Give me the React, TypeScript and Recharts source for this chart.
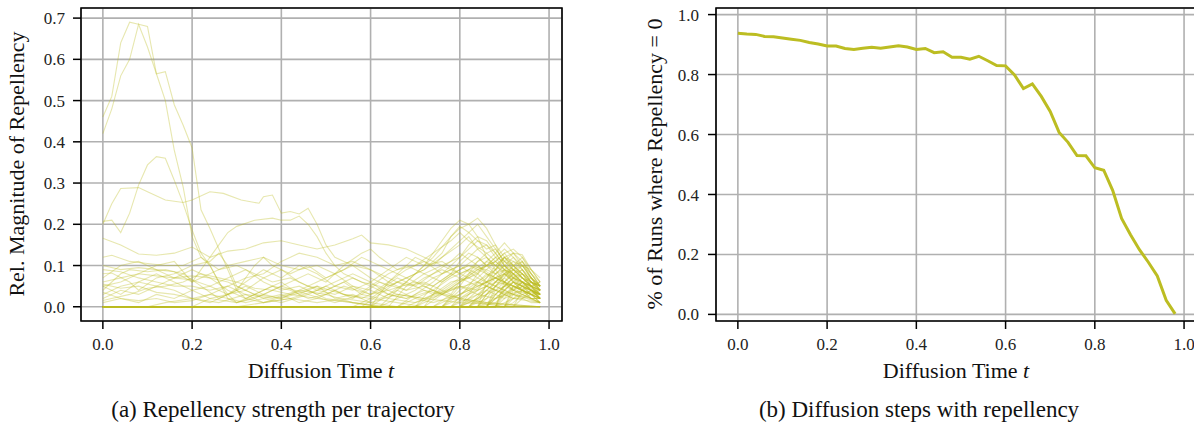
import { LineChart, Line, XAxis, YAxis, CartesianGrid, ReferenceArea } from "recharts";

const OLIVE = "#bcbd22";
const GRID = "#b0b0b0";
const FONT = '"Liberation Serif", "Times New Roman", serif';

type Pt = [number, number];

// shared x axis (diffusion time), matplotlib-style 5% padding around [0, 0.98]
const timeTicks = [0, 0.2, 0.4, 0.6, 0.8, 1.0];
const TIME_DOMAIN: [number, number] = [-0.049, 1.029];

const strengthTicks = [0, 0.1, 0.2, 0.3, 0.4, 0.5, 0.6, 0.7];
const STRENGTH_DOMAIN: [number, number] = [-0.0345, 0.7245];

const shareTicks = [0, 0.2, 0.4, 0.6, 0.8, 1.0];
const SHARE_DOMAIN: [number, number] = [-0.022, 1.022];

// (a) trajectories with strong early repellency
const earlyRuns: Pt[][] = [
  [[0, 0.42], [0.02, 0.48], [0.04, 0.56], [0.06, 0.6], [0.08, 0.685], [0.1, 0.63], [0.12, 0.565], [0.14, 0.5], [0.16, 0.38], [0.18, 0.29], [0.2, 0.17], [0.22, 0.12], [0.24, 0.1], [0.26, 0.06], [0.28, 0.02], [0.3, 0.01], [0.34, 0.03], [0.4, 0.02], [0.46, 0.04], [0.5, 0.02], [0.56, 0.01], [0.62, 0], [0.98, 0]],
  [[0, 0.46], [0.02, 0.51], [0.04, 0.64], [0.06, 0.69], [0.08, 0.685], [0.1, 0.68], [0.12, 0.565], [0.14, 0.57], [0.16, 0.49], [0.18, 0.44], [0.2, 0.385], [0.22, 0.235], [0.24, 0.19], [0.26, 0.14], [0.28, 0.09], [0.3, 0.04], [0.32, 0.02], [0.36, 0.01], [0.42, 0.03], [0.48, 0.02], [0.56, 0.01], [0.64, 0], [0.98, 0]],
  [[0, 0.207], [0.02, 0.21], [0.04, 0.18], [0.06, 0.227], [0.08, 0.295], [0.1, 0.344], [0.12, 0.364], [0.14, 0.36], [0.16, 0.307], [0.18, 0.25], [0.2, 0.186], [0.22, 0.13], [0.24, 0.1], [0.26, 0.06], [0.28, 0.03], [0.3, 0.01], [0.34, 0.02], [0.38, 0.04], [0.42, 0.03], [0.48, 0.05], [0.54, 0.03], [0.6, 0.02], [0.66, 0.01], [0.72, 0], [0.98, 0]],
  [[0, 0.2], [0.02, 0.25], [0.04, 0.287], [0.08, 0.289], [0.1, 0.279], [0.14, 0.259], [0.18, 0.253], [0.2, 0.259], [0.24, 0.279], [0.27, 0.275], [0.31, 0.259], [0.35, 0.251], [0.36, 0.267], [0.38, 0.271], [0.4, 0.227], [0.42, 0.231], [0.44, 0.225], [0.46, 0.239], [0.48, 0.2], [0.5, 0.15], [0.52, 0.12], [0.56, 0.1], [0.6, 0.09], [0.64, 0.07], [0.68, 0.05], [0.72, 0.06], [0.76, 0.04], [0.8, 0.02], [0.86, 0.01], [0.98, 0]],
  [[0, 0.166], [0.04, 0.15], [0.08, 0.128], [0.12, 0.125], [0.16, 0.13], [0.2, 0.145], [0.24, 0.12], [0.28, 0.135], [0.32, 0.14], [0.36, 0.155], [0.4, 0.16], [0.44, 0.15], [0.48, 0.14], [0.52, 0.15], [0.56, 0.165], [0.58, 0.174], [0.6, 0.155], [0.64, 0.15], [0.68, 0.14], [0.72, 0.12], [0.76, 0.1], [0.8, 0.08], [0.84, 0.06], [0.88, 0.04], [0.92, 0.03], [0.98, 0.01]],
  [[0, 0.05], [0.04, 0.06], [0.08, 0.08], [0.12, 0.1], [0.16, 0.11], [0.2, 0.06], [0.22, 0.09], [0.24, 0.12], [0.26, 0.15], [0.28, 0.18], [0.3, 0.195], [0.34, 0.21], [0.38, 0.215], [0.4, 0.21], [0.42, 0.21], [0.44, 0.22], [0.46, 0.2], [0.48, 0.17], [0.5, 0.13], [0.52, 0.1], [0.54, 0.08], [0.58, 0.06], [0.62, 0.05], [0.66, 0.03], [0.72, 0.02], [0.8, 0.01], [0.98, 0]],
];

// (a) trajectories wandering at low level through the whole run
const steadyRuns: Pt[][] = [
  [[0, 0.12], [0.02, 0.125], [0.06, 0.11], [0.1, 0.105], [0.14, 0.1], [0.18, 0.1], [0.22, 0.12], [0.26, 0.09], [0.3, 0.1], [0.34, 0.08], [0.38, 0.06], [0.42, 0.07], [0.46, 0.05], [0.5, 0.04], [0.54, 0.06], [0.58, 0.03], [0.62, 0.02], [0.66, 0.04], [0.7, 0.02], [0.74, 0.01], [0.8, 0.03], [0.86, 0.06], [0.9, 0.08], [0.94, 0.05], [0.98, 0.03]],
  [[0, 0.1], [0.04, 0.09], [0.08, 0.095], [0.12, 0.09], [0.16, 0.085], [0.2, 0.06], [0.24, 0.08], [0.28, 0.1], [0.32, 0.11], [0.36, 0.12], [0.4, 0.1], [0.44, 0.09], [0.48, 0.1], [0.52, 0.08], [0.56, 0.1], [0.6, 0.07], [0.64, 0.05], [0.68, 0.07], [0.72, 0.09], [0.76, 0.12], [0.8, 0.15], [0.82, 0.17], [0.84, 0.14], [0.88, 0.1], [0.92, 0.07], [0.96, 0.04], [0.98, 0.02]],
  [[0, 0.08], [0.02, 0.082], [0.06, 0.06], [0.08, 0.04], [0.12, 0.07], [0.16, 0.08], [0.2, 0.1], [0.24, 0.11], [0.26, 0.13], [0.28, 0.1], [0.3, 0.05], [0.34, 0.03], [0.38, 0.05], [0.42, 0.04], [0.46, 0.02], [0.5, 0.03], [0.56, 0.01], [0.62, 0], [0.98, 0]],
  [[0, 0.07], [0.04, 0.1], [0.08, 0.11], [0.12, 0.09], [0.16, 0.07], [0.2, 0.065], [0.24, 0.05], [0.28, 0.07], [0.32, 0.09], [0.36, 0.06], [0.4, 0.04], [0.44, 0.05], [0.48, 0.03], [0.52, 0.05], [0.56, 0.07], [0.6, 0.05], [0.64, 0.08], [0.68, 0.1], [0.72, 0.08], [0.76, 0.06], [0.8, 0.09], [0.84, 0.12], [0.88, 0.08], [0.92, 0.04], [0.96, 0.02], [0.98, 0.01]],
  [[0, 0.05], [0.04, 0.03], [0.08, 0.06], [0.12, 0.08], [0.16, 0.06], [0.2, 0.04], [0.24, 0.02], [0.28, 0.03], [0.32, 0.06], [0.36, 0.09], [0.4, 0.07], [0.44, 0.1], [0.48, 0.08], [0.52, 0.05], [0.56, 0.04], [0.6, 0.06], [0.64, 0.03], [0.68, 0.02], [0.72, 0.04], [0.76, 0.03], [0.8, 0.05], [0.84, 0.04], [0.88, 0.06], [0.92, 0.09], [0.94, 0.11], [0.96, 0.07], [0.98, 0.04]],
  [[0, 0.03], [0.04, 0.05], [0.08, 0.06], [0.12, 0.05], [0.16, 0.07], [0.2, 0.09], [0.24, 0.07], [0.28, 0.04], [0.32, 0.02], [0.36, 0.04], [0.4, 0.06], [0.44, 0.03], [0.48, 0.05], [0.52, 0.02], [0.56, 0.03], [0.6, 0.01], [0.66, 0], [0.98, 0]],
  [[0, 0.02], [0.04, 0.04], [0.08, 0.03], [0.12, 0.05], [0.16, 0.04], [0.2, 0.02], [0.24, 0.01], [0.28, 0.03], [0.32, 0.05], [0.36, 0.03], [0.4, 0.02], [0.44, 0.04], [0.48, 0.06], [0.52, 0.08], [0.56, 0.05], [0.6, 0.03], [0.64, 0.06], [0.68, 0.09], [0.72, 0.11], [0.76, 0.08], [0.8, 0.1], [0.84, 0.07], [0.88, 0.05], [0.92, 0.03], [0.96, 0.02], [0.98, 0.02]],
  [[0, 0.06], [0.04, 0.07], [0.08, 0.08], [0.12, 0.075], [0.16, 0.07], [0.2, 0.075], [0.24, 0.07], [0.28, 0.06], [0.32, 0.04], [0.36, 0.07], [0.4, 0.09], [0.44, 0.06], [0.48, 0.04], [0.52, 0.03], [0.56, 0.05], [0.6, 0.04], [0.64, 0.02], [0.7, 0.01], [0.76, 0.03], [0.8, 0.06], [0.84, 0.09], [0.88, 0.11], [0.9, 0.13], [0.92, 0.1], [0.94, 0.08], [0.96, 0.06], [0.98, 0.05]],
  [[0, 0.04], [0.04, 0.08], [0.06, 0.09], [0.1, 0.085], [0.14, 0.09], [0.18, 0.08], [0.22, 0.05], [0.26, 0.02], [0.3, 0.04], [0.34, 0.1], [0.36, 0.12], [0.38, 0.1], [0.42, 0.08], [0.46, 0.1], [0.5, 0.07], [0.54, 0.09], [0.58, 0.12], [0.62, 0.1], [0.66, 0.08], [0.7, 0.06], [0.74, 0.04], [0.78, 0.02], [0.84, 0.01], [0.9, 0], [0.98, 0]],
  [[0, 0.01], [0.04, 0.02], [0.08, 0.01], [0.12, 0.03], [0.16, 0.02], [0.2, 0.04], [0.24, 0.05], [0.28, 0.03], [0.32, 0.04], [0.36, 0.02], [0.4, 0.03], [0.44, 0.01], [0.48, 0.02], [0.52, 0.04], [0.56, 0.02], [0.6, 0.05], [0.64, 0.03], [0.68, 0.02], [0.74, 0.04], [0.8, 0.02], [0.86, 0.05], [0.9, 0.03], [0.94, 0.06], [0.98, 0.03]],
  [[0, 0.09], [0.04, 0.085], [0.08, 0.07], [0.12, 0.06], [0.16, 0.05], [0.2, 0.05], [0.24, 0.04], [0.28, 0.05], [0.32, 0.07], [0.36, 0.08], [0.4, 0.11], [0.44, 0.13], [0.48, 0.12], [0.52, 0.1], [0.56, 0.11], [0.6, 0.09], [0.64, 0.06], [0.68, 0.04], [0.72, 0.05], [0.76, 0.03], [0.8, 0.02], [0.86, 0.01], [0.98, 0]],
  [[0, 0.015], [0.06, 0.03], [0.1, 0.045], [0.14, 0.05], [0.18, 0.06], [0.22, 0.08], [0.26, 0.07], [0.3, 0.06], [0.34, 0.045], [0.38, 0.04], [0.42, 0.06], [0.46, 0.08], [0.5, 0.06], [0.54, 0.1], [0.58, 0.13], [0.6, 0.14], [0.62, 0.12], [0.66, 0.09], [0.7, 0.1], [0.74, 0.13], [0.78, 0.16], [0.8, 0.18], [0.82, 0.16], [0.86, 0.13], [0.9, 0.09], [0.94, 0.06], [0.98, 0.04]],
  [[0, 0.055], [0.04, 0.045], [0.08, 0.05], [0.12, 0.035], [0.16, 0.03], [0.2, 0.02], [0.24, 0.03], [0.28, 0.02], [0.32, 0.01], [0.36, 0.02], [0.4, 0.01], [0.46, 0.03], [0.5, 0.05], [0.54, 0.03], [0.58, 0.02], [0.62, 0.04], [0.66, 0.07], [0.7, 0.05], [0.74, 0.03], [0.8, 0.05], [0.84, 0.03], [0.88, 0.02], [0.94, 0.04], [0.98, 0.02]],
  [[0, 0.035], [0.04, 0.02], [0.08, 0.015], [0.12, 0.02], [0.16, 0.01], [0.2, 0.015], [0.24, 0.03], [0.28, 0.05], [0.32, 0.03], [0.36, 0.01], [0.42, 0.02], [0.48, 0.01], [0.54, 0.02], [0.6, 0.01], [0.66, 0.03], [0.72, 0.02], [0.78, 0.04], [0.84, 0.06], [0.88, 0.04], [0.92, 0.02], [0.98, 0.01]],
  [[0, 0], [0.1, 0], [0.14, 0.01], [0.2, 0.02], [0.26, 0.01], [0.32, 0.03], [0.38, 0.02], [0.44, 0.04], [0.5, 0.03], [0.54, 0.05], [0.6, 0.03], [0.64, 0.04], [0.7, 0.06], [0.74, 0.05], [0.78, 0.08], [0.82, 0.1], [0.86, 0.08], [0.9, 0.06], [0.94, 0.04], [0.98, 0.03]],
  [[0, 0], [0.2, 0], [0.24, 0.02], [0.3, 0.01], [0.36, 0.03], [0.4, 0.05], [0.46, 0.03], [0.52, 0.01], [0.58, 0.03], [0.62, 0.06], [0.68, 0.04], [0.72, 0.07], [0.76, 0.09], [0.8, 0.07], [0.84, 0.05], [0.88, 0.07], [0.92, 0.05], [0.96, 0.04], [0.98, 0.02]],
  [[0, 0], [0.3, 0], [0.36, 0.01], [0.42, 0.02], [0.48, 0.04], [0.52, 0.06], [0.56, 0.08], [0.6, 0.06], [0.64, 0.09], [0.68, 0.12], [0.72, 0.1], [0.76, 0.11], [0.8, 0.08], [0.84, 0.1], [0.88, 0.07], [0.92, 0.04], [0.96, 0.03], [0.98, 0.02]],
];

// (a) trajectories that stay at zero and only repel late in the diffusion
const lateRuns: Pt[][] = [
  [[0, 0], [0.6, 0], [0.64, 0.03], [0.68, 0.06], [0.72, 0.1], [0.76, 0.16], [0.78, 0.19], [0.8, 0.21], [0.82, 0.2], [0.84, 0.17], [0.86, 0.12], [0.88, 0.09], [0.9, 0.06], [0.92, 0.05], [0.94, 0.04], [0.96, 0.03], [0.98, 0.02]],
  [[0, 0], [0.62, 0], [0.66, 0.04], [0.7, 0.08], [0.74, 0.12], [0.78, 0.17], [0.8, 0.19], [0.82, 0.2], [0.84, 0.215], [0.86, 0.19], [0.88, 0.15], [0.9, 0.1], [0.92, 0.07], [0.94, 0.05], [0.96, 0.04], [0.98, 0.03]],
  [[0, 0], [0.56, 0], [0.6, 0.02], [0.64, 0.05], [0.68, 0.07], [0.72, 0.09], [0.76, 0.13], [0.78, 0.17], [0.8, 0.195], [0.82, 0.18], [0.84, 0.16], [0.86, 0.15], [0.88, 0.13], [0.9, 0.1], [0.92, 0.08], [0.94, 0.06], [0.96, 0.04], [0.98, 0.03]],
  [[0, 0], [0.66, 0], [0.7, 0.03], [0.74, 0.06], [0.78, 0.1], [0.82, 0.14], [0.84, 0.16], [0.86, 0.14], [0.88, 0.15], [0.9, 0.12], [0.92, 0.09], [0.94, 0.07], [0.96, 0.05], [0.98, 0.04]],
  [[0, 0], [0.7, 0], [0.74, 0.02], [0.78, 0.05], [0.82, 0.08], [0.86, 0.11], [0.88, 0.13], [0.9, 0.155], [0.92, 0.13], [0.94, 0.126], [0.96, 0.09], [0.98, 0.06]],
  [[0, 0], [0.72, 0], [0.76, 0.03], [0.8, 0.06], [0.84, 0.09], [0.86, 0.1], [0.88, 0.12], [0.9, 0.14], [0.92, 0.12], [0.94, 0.1], [0.96, 0.07], [0.98, 0.05]],
  [[0, 0], [0.68, 0], [0.72, 0.02], [0.76, 0.04], [0.8, 0.07], [0.84, 0.11], [0.86, 0.13], [0.88, 0.14], [0.9, 0.11], [0.92, 0.1], [0.94, 0.08], [0.96, 0.05], [0.98, 0.04]],
  [[0, 0], [0.74, 0], [0.78, 0.02], [0.82, 0.04], [0.86, 0.07], [0.88, 0.09], [0.9, 0.12], [0.92, 0.1], [0.94, 0.11], [0.96, 0.08], [0.98, 0.05]],
  [[0, 0], [0.76, 0], [0.8, 0.02], [0.84, 0.05], [0.86, 0.06], [0.88, 0.08], [0.9, 0.1], [0.92, 0.09], [0.94, 0.07], [0.96, 0.06], [0.98, 0.04]],
  [[0, 0], [0.78, 0], [0.82, 0.02], [0.86, 0.04], [0.88, 0.06], [0.9, 0.08], [0.92, 0.07], [0.94, 0.09], [0.96, 0.06], [0.98, 0.05]],
  [[0, 0], [0.8, 0], [0.84, 0.02], [0.88, 0.04], [0.9, 0.05], [0.92, 0.06], [0.94, 0.05], [0.96, 0.04], [0.98, 0.03]],
  [[0, 0], [0.82, 0], [0.86, 0.02], [0.88, 0.03], [0.9, 0.05], [0.92, 0.04], [0.94, 0.06], [0.96, 0.05], [0.98, 0.04]],
  [[0, 0], [0.84, 0], [0.88, 0.01], [0.9, 0.03], [0.92, 0.04], [0.94, 0.03], [0.96, 0.02], [0.98, 0.02]],
  [[0, 0], [0.64, 0], [0.68, 0.05], [0.72, 0.08], [0.76, 0.1], [0.8, 0.12], [0.82, 0.15], [0.84, 0.17], [0.86, 0.16], [0.88, 0.13], [0.9, 0.1], [0.92, 0.08], [0.94, 0.06], [0.96, 0.04], [0.98, 0.02]],
  [[0, 0], [0.58, 0], [0.62, 0.03], [0.66, 0.06], [0.7, 0.05], [0.74, 0.08], [0.78, 0.11], [0.8, 0.13], [0.84, 0.1], [0.86, 0.08], [0.88, 0.06], [0.92, 0.05], [0.96, 0.03], [0.98, 0.01]],
  [[0, 0], [0.7, 0], [0.74, 0.05], [0.78, 0.08], [0.8, 0.11], [0.82, 0.13], [0.84, 0.12], [0.86, 0.1], [0.88, 0.11], [0.9, 0.09], [0.92, 0.07], [0.94, 0.08], [0.96, 0.05], [0.98, 0.03]],
  [[0, 0], [0.86, 0], [0.88, 0.02], [0.9, 0.04], [0.92, 0.06], [0.94, 0.08], [0.96, 0.07], [0.98, 0.05]],
  [[0, 0], [0.76, 0], [0.8, 0.04], [0.84, 0.07], [0.86, 0.09], [0.88, 0.11], [0.9, 0.13], [0.92, 0.14], [0.94, 0.12], [0.96, 0.08], [0.98, 0.06]],
  [[0, 0], [0.8, 0], [0.84, 0.03], [0.88, 0.07], [0.9, 0.09], [0.92, 0.11], [0.94, 0.1], [0.96, 0.07], [0.98, 0.05]],
  [[0, 0], [0.74, 0], [0.78, 0.03], [0.8, 0.06], [0.84, 0.08], [0.86, 0.11], [0.88, 0.1], [0.9, 0.08], [0.92, 0.06], [0.94, 0.04], [0.96, 0.03], [0.98, 0.02]],
  [[0, 0], [0.66, 0], [0.7, 0.02], [0.74, 0.04], [0.78, 0.07], [0.82, 0.09], [0.84, 0.08], [0.86, 0.06], [0.88, 0.05], [0.9, 0.07], [0.92, 0.05], [0.94, 0.04], [0.96, 0.02], [0.98, 0.01]],
  [[0, 0], [0.84, 0], [0.86, 0.02], [0.88, 0.05], [0.9, 0.06], [0.92, 0.08], [0.94, 0.09], [0.96, 0.06], [0.98, 0.04]],
  [[0, 0], [0.88, 0], [0.9, 0.02], [0.92, 0.03], [0.94, 0.04], [0.96, 0.03], [0.98, 0.03]],
  [[0, 0], [0.6, 0], [0.64, 0.06], [0.68, 0.1], [0.7, 0.12], [0.74, 0.1], [0.78, 0.14], [0.8, 0.16], [0.82, 0.18], [0.84, 0.2], [0.86, 0.17], [0.88, 0.14], [0.9, 0.11], [0.92, 0.09], [0.94, 0.07], [0.96, 0.05], [0.98, 0.03]],
  [[0, 0], [0.78, 0], [0.82, 0.05], [0.84, 0.08], [0.86, 0.1], [0.88, 0.12], [0.9, 0.11], [0.92, 0.13], [0.94, 0.1], [0.96, 0.07], [0.98, 0.04]],
  [[0, 0], [0.82, 0], [0.86, 0.04], [0.88, 0.06], [0.9, 0.08], [0.92, 0.09], [0.94, 0.08], [0.96, 0.06], [0.98, 0.03]],
  [[0, 0], [0.72, 0], [0.76, 0.06], [0.8, 0.09], [0.82, 0.1], [0.86, 0.09], [0.88, 0.08], [0.9, 0.09], [0.92, 0.08], [0.94, 0.06], [0.96, 0.04], [0.98, 0.02]],
  [[0, 0], [0.86, 0], [0.88, 0.03], [0.9, 0.05], [0.92, 0.07], [0.94, 0.06], [0.96, 0.05], [0.98, 0.02]],
  [[0, 0], [0.62, 0], [0.66, 0.02], [0.7, 0.04], [0.74, 0.07], [0.78, 0.09], [0.8, 0.1], [0.84, 0.14], [0.86, 0.15], [0.88, 0.12], [0.9, 0.09], [0.92, 0.06], [0.94, 0.05], [0.96, 0.03], [0.98, 0.02]],
  [[0, 0], [0.9, 0], [0.92, 0.02], [0.94, 0.03], [0.96, 0.04], [0.98, 0.02]],
  [[0, 0], [0.8, 0], [0.84, 0.04], [0.86, 0.07], [0.88, 0.1], [0.9, 0.12], [0.92, 0.11], [0.94, 0.09], [0.96, 0.06], [0.98, 0.05]],
  [[0, 0], [0.82, 0], [0.86, 0.05], [0.88, 0.08], [0.9, 0.1], [0.92, 0.12], [0.94, 0.09], [0.96, 0.07], [0.98, 0.04]],
  [[0, 0], [0.76, 0], [0.8, 0.03], [0.84, 0.06], [0.88, 0.09], [0.9, 0.11], [0.92, 0.09], [0.94, 0.07], [0.96, 0.05], [0.98, 0.03]],
  [[0, 0], [0.86, 0], [0.88, 0.04], [0.9, 0.06], [0.92, 0.08], [0.94, 0.07], [0.96, 0.05], [0.98, 0.06]],
  [[0, 0], [0.7, 0], [0.74, 0.03], [0.78, 0.06], [0.82, 0.07], [0.86, 0.1], [0.88, 0.09], [0.9, 0.1], [0.92, 0.08], [0.94, 0.06], [0.96, 0.04], [0.98, 0.03]],
  [[0, 0], [0.9, 0], [0.92, 0.03], [0.94, 0.05], [0.96, 0.06], [0.98, 0.05]],
  [[0, 0], [0.84, 0], [0.86, 0.03], [0.88, 0.05], [0.9, 0.07], [0.92, 0.1], [0.94, 0.12], [0.96, 0.09], [0.98, 0.06]],
  [[0, 0], [0.86, 0], [0.88, 0.05], [0.9, 0.08], [0.92, 0.1], [0.94, 0.08], [0.96, 0.06], [0.98, 0.04]],
  [[0, 0], [0.88, 0], [0.9, 0.04], [0.92, 0.06], [0.94, 0.05], [0.96, 0.04], [0.98, 0.03]],
  [[0, 0], [0.8, 0], [0.84, 0.02], [0.86, 0.04], [0.88, 0.03], [0.9, 0.05], [0.92, 0.07], [0.94, 0.06], [0.96, 0.05], [0.98, 0.02]],
  [[0, 0], [0.84, 0], [0.88, 0.06], [0.9, 0.09], [0.92, 0.08], [0.94, 0.1], [0.96, 0.08], [0.98, 0.05]],
  [[0, 0], [0.78, 0], [0.82, 0.03], [0.86, 0.06], [0.88, 0.07], [0.9, 0.06], [0.92, 0.04], [0.94, 0.05], [0.96, 0.03], [0.98, 0.02]],
  [[0, 0], [0.88, 0], [0.9, 0.03], [0.92, 0.05], [0.94, 0.07], [0.96, 0.06], [0.98, 0.04]],
  [[0, 0], [0.9, 0], [0.92, 0.04], [0.94, 0.06], [0.96, 0.05], [0.98, 0.03]],
  [[0, 0], [0.86, 0], [0.88, 0.02], [0.9, 0.03], [0.92, 0.02], [0.94, 0.04], [0.96, 0.03], [0.98, 0.01]],
  [[0, 0], [0.82, 0], [0.86, 0.03], [0.88, 0.05], [0.9, 0.04], [0.92, 0.06], [0.94, 0.05], [0.96, 0.04], [0.98, 0.04]],
  [[0, 0], [0.92, 0], [0.94, 0.02], [0.96, 0.03], [0.98, 0.04]],
  [[0, 0], [0.88, 0], [0.9, 0.01], [0.92, 0.02], [0.94, 0.02], [0.96, 0.01], [0.98, 0.01]],
  [[0, 0], [0.76, 0], [0.8, 0.05], [0.82, 0.08], [0.84, 0.11], [0.86, 0.12], [0.88, 0.1], [0.9, 0.12], [0.92, 0.1], [0.94, 0.07], [0.96, 0.05], [0.98, 0.04]],
  [[0, 0], [0.84, 0], [0.86, 0.06], [0.88, 0.09], [0.9, 0.12], [0.92, 0.13], [0.94, 0.11], [0.96, 0.08], [0.98, 0.05]],
  [[0, 0], [0.88, 0], [0.9, 0.05], [0.92, 0.07], [0.94, 0.06], [0.96, 0.07], [0.98, 0.05]],
  [[0, 0], [0.9, 0], [0.92, 0.01], [0.94, 0.03], [0.96, 0.02], [0.98, 0.02]],
  [[0, 0], [0.86, 0], [0.88, 0.03], [0.9, 0.02], [0.92, 0.05], [0.94, 0.04], [0.96, 0.06], [0.98, 0.05]],
  [[0, 0], [0.84, 0], [0.86, 0.01], [0.88, 0.02], [0.9, 0.04], [0.92, 0.03], [0.94, 0.02], [0.96, 0.04], [0.98, 0.03]],
  [[0, 0], [0.8, 0], [0.84, 0.06], [0.86, 0.08], [0.88, 0.07], [0.9, 0.08], [0.92, 0.06], [0.94, 0.04], [0.96, 0.02], [0.98, 0.01]],
  [[0, 0], [0.92, 0], [0.94, 0.04], [0.96, 0.05], [0.98, 0.06]],
  [[0, 0], [0.88, 0], [0.9, 0.06], [0.92, 0.09], [0.94, 0.1], [0.96, 0.09], [0.98, 0.07]],
  [[0, 0], [0.9, 0], [0.92, 0.05], [0.94, 0.04], [0.96, 0.03], [0.98, 0.01]],
];

// (b) share of runs with zero repellency at each diffusion step
const stepTimes = [
  0, 0.02, 0.04, 0.06, 0.08, 0.1, 0.12, 0.14, 0.16, 0.18,
  0.2, 0.22, 0.24, 0.26, 0.28, 0.3, 0.32, 0.34, 0.36, 0.38,
  0.4, 0.42, 0.44, 0.46, 0.48, 0.5, 0.52, 0.54, 0.56, 0.58,
  0.6, 0.62, 0.64, 0.66, 0.68, 0.7, 0.72, 0.74, 0.76, 0.78,
  0.8, 0.82, 0.84, 0.86, 0.88, 0.9, 0.92, 0.94, 0.96, 0.98,
];
const zeroShare = [
  0.938, 0.935, 0.934, 0.927, 0.926, 0.922, 0.918, 0.914, 0.907, 0.902,
  0.895, 0.895, 0.887, 0.884, 0.888, 0.891, 0.888, 0.892, 0.896, 0.892,
  0.884, 0.887, 0.873, 0.876, 0.858, 0.858, 0.851, 0.861, 0.846, 0.83,
  0.829, 0.799, 0.753, 0.769, 0.727, 0.677, 0.607, 0.574, 0.53, 0.529,
  0.489, 0.481, 0.414, 0.32, 0.266, 0.216, 0.174, 0.128, 0.047, 0.002,
];

const fmt = (v: number) => v.toFixed(1);
const tickStyle = { fill: "#222", fontSize: 17, fontFamily: FONT };
const tickLineStyle = { stroke: "#000", strokeWidth: 1.5 };

function StrengthChart() {
  const runs = [...earlyRuns, ...steadyRuns, ...lateRuns].map((r) => r.map(([t, v]) => ({ t, v })));
  return (
    <LineChart width={600} height={425} margin={{ top: 8, right: 38, bottom: 0, left: 0 }}>
      <CartesianGrid stroke={GRID} strokeWidth={1.6} />
      <XAxis type="number" dataKey="t" domain={TIME_DOMAIN} ticks={timeTicks} allowDataOverflow height={104}
        tickSize={8} tickMargin={9} axisLine={false} tickLine={tickLineStyle} tick={tickStyle} tickFormatter={fmt} />
      <YAxis type="number" domain={STRENGTH_DOMAIN} ticks={strengthTicks} allowDataOverflow width={81}
        tickSize={8} tickMargin={8} axisLine={false} tickLine={tickLineStyle} tick={tickStyle} tickFormatter={fmt} />
      {runs.map((d, i) => (
        <Line key={i} data={d} dataKey="v" type="linear" stroke={OLIVE} strokeOpacity={0.36} strokeWidth={1.1}
          dot={false} activeDot={false} isAnimationActive={false} />
      ))}
      <ReferenceArea x1={TIME_DOMAIN[0]} x2={TIME_DOMAIN[1]} y1={STRENGTH_DOMAIN[0]} y2={STRENGTH_DOMAIN[1]}
        fill="none" stroke="#000" strokeWidth={1.6} ifOverflow="visible" />
    </LineChart>
  );
}

function ShareChart() {
  const data = stepTimes.map((t, i) => ({ t, share: zeroShare[i] }));
  return (
    <LineChart width={600} height={425} data={data} margin={{ top: 8, right: 3, bottom: 0, left: 0 }}>
      <CartesianGrid stroke={GRID} strokeWidth={1.6} />
      <XAxis type="number" dataKey="t" domain={TIME_DOMAIN} ticks={timeTicks} allowDataOverflow height={104}
        tickSize={8} tickMargin={9} axisLine={false} tickLine={tickLineStyle} tick={tickStyle} tickFormatter={fmt} />
      <YAxis type="number" domain={SHARE_DOMAIN} ticks={shareTicks} allowDataOverflow width={116}
        tickSize={8} tickMargin={9} axisLine={false} tickLine={tickLineStyle} tick={tickStyle} tickFormatter={fmt} />
      <Line dataKey="share" type="linear" stroke={OLIVE} strokeWidth={3} dot={false} activeDot={false}
        isAnimationActive={false} />
      <ReferenceArea x1={TIME_DOMAIN[0]} x2={TIME_DOMAIN[1]} y1={SHARE_DOMAIN[0]} y2={SHARE_DOMAIN[1]}
        fill="none" stroke="#000" strokeWidth={1.6} ifOverflow="visible" />
    </LineChart>
  );
}

const textBase: React.CSSProperties = {
  position: "absolute",
  fontFamily: FONT,
  color: "#111",
  lineHeight: 1,
  whiteSpace: "nowrap",
  transform: "translate(-50%, -50%)",
};

function Label({ x, y, size, rotate, children }: { x: number; y: number; size: number; rotate?: boolean; children: React.ReactNode }) {
  return (
    <div style={{ ...textBase, left: x, top: y, fontSize: size, transform: rotate ? "translate(-50%, -50%) rotate(-90deg)" : textBase.transform }}>
      {children}
    </div>
  );
}

export default function App() {
  return (
    <div style={{ position: "absolute", left: 0, top: 0, width: 1194, height: 425, overflow: "hidden", background: "#fff" }}>
      <div style={{ position: "absolute", left: 0, top: 0 }}>
        <StrengthChart />
      </div>
      <div style={{ position: "absolute", left: 600, top: 0 }}>
        <ShareChart />
      </div>
      <Label x={321} y={371} size={22}>Diffusion Time <i>t</i></Label>
      <Label x={956} y={371} size={22}>Diffusion Time <i>t</i></Label>
      <Label x={17} y={164} size={22} rotate>Rel. Magnitude of Repellency</Label>
      <Label x={655} y={164} size={22} rotate>% of Runs where Repellency = 0</Label>
      <Label x={283} y={409} size={23}>(a) Repellency strength per trajectory</Label>
      <Label x={919} y={409} size={23}>(b) Diffusion steps with repellency</Label>
    </div>
  );
}
